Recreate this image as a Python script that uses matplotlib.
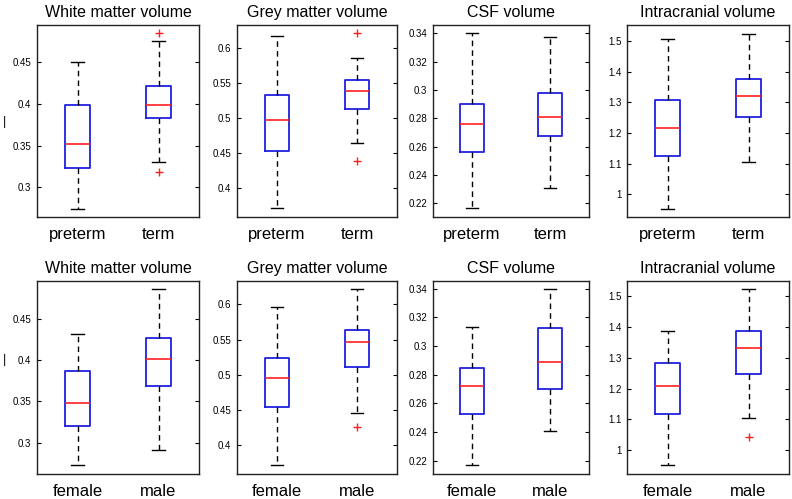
import matplotlib
matplotlib.use("Agg")
import matplotlib.pyplot as plt

plt.rcParams['font.family'] = ['Liberation Sans', 'DejaVu Sans']

titles = ["White matter volume", "Grey matter volume", "CSF volume", "Intracranial volume"]
groups_top = ["preterm", "term"]
groups_bottom = ["female", "male"]

# each box: (low whisker, q1, median, q3, high whisker, outliers)
wm_preterm = (0.2744, 0.3228, 0.352, 0.399, 0.450, [])
wm_term = (0.330, 0.3828, 0.399, 0.422, 0.4752, [0.4852, 0.3188])
gm_preterm = (0.3715, 0.453, 0.498, 0.5332, 0.6175, [])
gm_term = (0.4644, 0.5128, 0.5384, 0.5545, 0.5853, [0.6209, 0.4384])
csf_preterm = (0.2165, 0.2564, 0.2761, 0.2902, 0.340, [])
csf_term = (0.2307, 0.2676, 0.2813, 0.2982, 0.3372, [])
icv_preterm = (0.9536, 1.1253, 1.216, 1.3067, 1.5054, [])
icv_term = (1.1069, 1.2538, 1.3197, 1.3747, 1.5216, [])

wm_female = (0.2734, 0.3206, 0.3476, 0.3863, 0.4315, [])
wm_male = (0.2911, 0.3686, 0.4012, 0.4266, 0.4863, [])
gm_female = (0.3721, 0.4548, 0.4955, 0.5238, 0.5967, [])
gm_male = (0.4463, 0.5115, 0.5466, 0.5636, 0.6222, [0.4259])
csf_female = (0.2172, 0.2525, 0.272, 0.2848, 0.3131, [])
csf_male = (0.2405, 0.2699, 0.2887, 0.3126, 0.340, [])
icv_female = (0.9525, 1.1166, 1.2073, 1.2818, 1.3877, [])
icv_male = (1.1058, 1.2484, 1.3315, 1.3877, 1.5238, [1.0432])

top_data = [(wm_preterm, wm_term), (gm_preterm, gm_term),
            (csf_preterm, csf_term), (icv_preterm, icv_term)]
bottom_data = [(wm_female, wm_male), (gm_female, gm_male),
               (csf_female, csf_male), (icv_female, icv_male)]

top_ylims = [(0.2644, 0.4948), (0.3592, 0.6327), (0.2104, 0.3459), (0.9266, 1.5518)]
bottom_ylims = [(0.2621, 0.4955), (0.3593, 0.6331), (0.2109, 0.3453), (0.9233, 1.5486)]

yticks = [[0.3, 0.35, 0.4, 0.45], [0.4, 0.45, 0.5, 0.55, 0.6],
          [0.22, 0.24, 0.26, 0.28, 0.3, 0.32, 0.34], [1, 1.1, 1.2, 1.3, 1.4, 1.5]]

lefts = [37, 237, 433, 627]
rights = [199, 397, 589, 789]
W, H = 792, 499


def to_stats(box, label):
    lo, q1, med, q3, hi, fl = box
    return dict(whislo=lo, q1=q1, med=med, q3=q3, whishi=hi, fliers=fl, label=label)


fig = plt.figure(figsize=(W / 100, H / 100), dpi=100)

rows = [(top_data, groups_top, top_ylims, 25, 217),
        (bottom_data, groups_bottom, bottom_ylims, 281, 474)]

for data, groups, ylims, ytop, ybot in rows:
    for i in range(4):
        ax = fig.add_axes([lefts[i] / W, 1 - ybot / H,
                           (rights[i] - lefts[i]) / W, (ybot - ytop) / H])
        stats = [to_stats(b, g) for b, g in zip(data[i], groups)]
        ax.bxp(stats, positions=[1, 2], widths=0.3, showfliers=True,
               boxprops=dict(color='#2020e0', linewidth=1.3),
               medianprops=dict(color='#ff2020', linewidth=1.2),
               whiskerprops=dict(color='black', linestyle=(0, (4, 3)), linewidth=1),
               capprops=dict(color='black', linewidth=1),
               flierprops=dict(marker='+', markeredgecolor='#ff2020', markersize=6,
                               markeredgewidth=1))
        ax.set_xlim(0.5, 2.5)
        ax.set_ylim(*ylims[i])
        ax.set_yticks(yticks[i])
        ax.set_yticklabels(["%g" % v for v in yticks[i]])
        ax.tick_params(axis='y', direction='in', right=True, length=3,
                       labelsize=7, pad=4)
        ax.tick_params(axis='x', length=0, labelsize=12, pad=7)
        ax.set_title(titles[i], fontsize=11.5, pad=6)
        for s in ax.spines.values():
            s.set_color('#222222')
            s.set_linewidth(1)

# clipped y-label remnants at the left edge
fig.text(0.003, 1 - 122 / H, "|", fontsize=9, va='center')
fig.text(0.003, 1 - 360 / H, "|", fontsize=9, va='center')

fig.savefig("out.png", dpi=100)
